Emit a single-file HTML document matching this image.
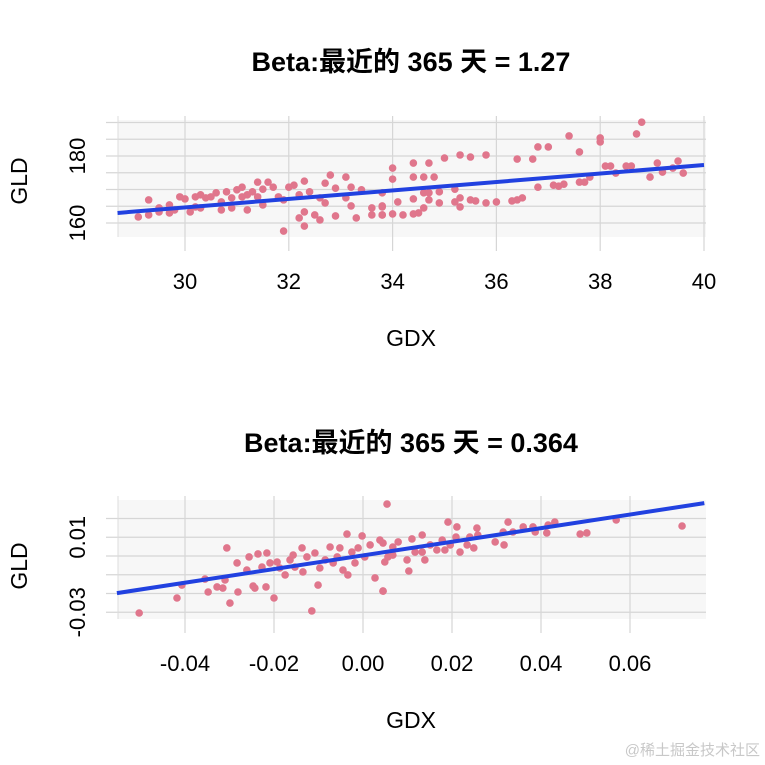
<!DOCTYPE html>
<html><head><meta charset="utf-8">
<style>
html,body{margin:0;padding:0;background:#fff;}
svg{display:block;font-family:"Liberation Sans","Noto Sans CJK SC",sans-serif;}
</style></head>
<body>
<svg id="chart" width="765" height="765" viewBox="0 0 765 765">
  <text x="411" y="71" text-anchor="middle" font-size="27" font-weight="bold" fill="#000">Beta:最近的 365 天 = 1.27</text>
  <g id="top"></g>
  <text x="411" y="346" text-anchor="middle" font-size="23" fill="#000">GDX</text>
  <text transform="translate(27,181) rotate(-90)" text-anchor="middle" font-size="23" fill="#000">GLD</text>

  <text x="411" y="452" text-anchor="middle" font-size="27" font-weight="bold" fill="#000">Beta:最近的 365 天 = 0.364</text>
  <g id="bot"></g>
  <text x="411" y="728" text-anchor="middle" font-size="23" fill="#000">GDX</text>
  <text transform="translate(27,566) rotate(-90)" text-anchor="middle" font-size="23" fill="#000">GLD</text>

  <text x="760" y="755" text-anchor="end" font-size="15" fill="#c8c8c8">@稀土掘金技术社区</text>
</svg>
<script>
// Top panel data
const topX = [34.0,34.0,34.4,34.4,34.7,34.6,34.8,35.0,35.3,35.5,35.8,36.4,36.7,36.8,37.0,37.4,37.6,38.0,38.0,38.7,38.8,38.1,38.2,38.5,38.6,38.3,38.96,39.1,39.2,39.4,39.5,39.6,37.8,37.7,37.6,37.3,37.2,37.1,36.8,36.5,36.4,36.3,36.0,35.8,35.6,35.5,35.3,35.3,35.2,35.2,34.9,34.9,34.7,34.6,34.5,34.4,34.2,34.0,34.1,34.4,34.6,34.7,33.8,33.8,33.8,
29.1,29.3,29.3,29.5,29.5,29.7,29.7,29.8,29.9,30.0,30.1,30.2,30.2,30.3,30.3,30.4,30.5,30.6,30.7,30.7,30.8,30.9,30.9,31.0,31.1,31.1,31.2,31.2,31.3,31.4,31.4,31.5,31.5,31.6,31.7,31.8,31.9,31.9,32.0,32.1,32.2,32.2,32.3,32.3,32.3,32.4,32.5,32.6,32.6,32.7,32.7,32.8,32.9,32.9,33.1,33.1,33.2,33.2,33.3,33.4,33.6,33.6,33.8,33.8];
const topY = [176.4,173.1,173.7,177.9,177.9,173.7,173.7,179.4,180.3,179.7,180.3,179.1,179.1,182.7,182.7,186.0,181.2,185.4,184.2,186.6,190.1,177.0,177.0,177.0,177.0,174.9,173.7,177.9,175.2,176.4,178.5,174.9,173.7,172.2,172.2,171.6,171.0,171.3,170.7,167.5,166.9,166.6,166.3,166.0,166.6,166.9,167.5,164.8,166.3,170.1,169.3,166.0,166.9,164.5,163.0,162.7,162.4,162.7,166.3,167.2,169.0,169.0,165.1,162.4,169.0,
161.8,166.9,162.4,163.3,164.5,165.4,163.0,163.9,167.8,167.2,163.3,164.8,167.8,168.4,164.5,167.5,167.8,169.0,163.9,166.3,169.3,167.5,164.5,169.9,167.8,170.7,163.9,168.4,169.3,172.2,167.8,170.1,165.4,172.2,170.7,167.8,166.9,157.6,170.7,171.3,168.4,161.5,159.1,163.3,172.5,169.3,162.4,167.5,160.9,166.0,171.9,174.3,162.1,170.4,167.5,173.7,170.7,165.1,161.5,169.9,164.5,162.4,162.4,164.8];
const topXTicks = [30,32,34,36,38,40];
const topXTickLabels = ["30","32","34","36","38","40"];
const topYTicks = [160,180];
const topYTickLabels = ["160","180"];
const topYGrid = [160,165,170,175,180,185,190];
const topBeta = 1.27;
const topLineX = [28.7,40.0];
const topLineY = [163.0,177.3];

// Bottom panel data
const botX = [-0.0503,-0.0418,-0.0407,-0.0355,-0.0348,-0.0328,-0.0315,-0.0310,-0.0306,-0.0299,-0.0283,-0.0281,-0.0261,-0.0256,-0.0247,-0.0243,-0.0236,-0.0227,-0.0218,-0.0216,-0.0209,-0.0200,-0.0193,-0.0187,-0.0175,-0.0164,-0.0157,-0.0153,-0.0137,-0.0135,-0.0126,-0.0115,-0.0108,-0.0101,-0.0097,-0.0085,-0.0074,-0.0067,-0.0058,-0.0052,-0.0045,-0.0036,-0.0034,-0.0025,-0.0018,-0.0011,-0.0002,0.0004,0.0016,0.0027,0.0038,0.0045,0.0054,0.0056,0.0067,
0.0045,0.0045,0.0049,0.0067,0.0079,0.0099,0.0103,0.0110,0.0117,0.0133,0.0133,0.0139,0.0151,0.0166,0.0178,0.0184,0.0191,0.0196,0.0209,0.0211,0.0218,0.0234,0.0240,0.0249,0.0256,0.0258,0.0297,0.0315,0.0317,0.0326,0.0337,0.0360,0.0382,0.0387,0.0413,0.0416,0.0431,0.0488,0.0503,0.0569,0.0717];
const botY = [-0.0304,-0.0224,-0.0155,-0.0123,-0.0192,-0.0165,-0.0171,-0.0128,0.0043,-0.0251,-0.0037,-0.0192,-0.0075,-0.0005,-0.0160,-0.0171,0.0011,-0.0059,-0.0165,0.0016,-0.0037,-0.0224,-0.0032,-0.0064,-0.0101,-0.0021,0.0005,-0.0059,0.0043,-0.0085,-0.0005,-0.0293,0.0016,-0.0155,-0.0064,-0.0021,0.0048,-0.0037,-0.0005,0.0043,-0.0075,0.0117,-0.0101,0.0021,-0.0037,0.0043,0.0107,-0.0005,0.0059,-0.0117,0.0085,-0.0187,0.0277,-0.0005,0.0048,
0.0069,-0.0187,-0.0032,0.0005,0.0075,-0.0021,-0.0080,0.0091,0.0021,0.0112,0.0021,-0.0021,0.0059,0.0032,0.0085,0.0032,0.0181,0.0059,0.0101,0.0155,0.0021,0.0059,0.0101,0.0043,0.0149,0.0112,0.0075,0.0128,0.0059,0.0181,0.0128,0.0155,0.0155,0.0128,0.0123,0.0165,0.0181,0.0117,0.0123,0.0192,0.0160];
const botXTicks = [-0.04,-0.02,0.00,0.02,0.04,0.06];
const botXTickLabels = ["-0.04","-0.02","0.00","0.02","0.04","0.06"];
const botYTicks = [-0.03,0.01];
const botYTickLabels = ["-0.03","0.01"];
const botYGrid = [-0.03,-0.02,-0.01,0.00,0.01,0.02];
const botBeta = 0.364;
const botLineX = [-0.0553,0.0767];
const botLineY = [-0.0198,0.0282];

const NS = "http://www.w3.org/2000/svg";
function mk(tag, attrs, parent){
  const e = document.createElementNS(NS, tag);
  for (const k in attrs) e.setAttribute(k, attrs[k]);
  parent.appendChild(e);
  return e;
}

function drawPanel(g, cfg){
  const sx = v => cfg.x0px + (v - cfg.x0) * cfg.xs;
  const sy = v => cfg.y0px - (v - cfg.y0) * cfg.ys;
  const bg = mk('rect', {x:cfg.left, y:cfg.top, width:cfg.right-cfg.left, height:cfg.bottom-cfg.top, fill:'#f7f7f7'}, g);
  
  
  cfg.yGrid.forEach(v => {
    const l = mk('line', {x1:cfg.left-12, x2:cfg.right, y1:sy(v), y2:sy(v), stroke:'#d6d6d6', 'stroke-width':1.2}, g);
    
    
  });
  cfg.xTicks.forEach((v,i) => {
    const l = mk('line', {x1:sx(v), x2:sx(v), y1:cfg.top-4, y2:cfg.bottom+14, stroke:'#d6d6d6', 'stroke-width':1.2}, g);
    
    
    const t = mk('text', {x:sx(v), y:cfg.xLabelY, 'text-anchor':'middle', 'font-size':22, fill:'#000'}, g);
    t.textContent = cfg.xLabels[i];
    
    
  });
  const el = mk('line', {x1:cfg.left, x2:cfg.left, y1:cfg.top-4, y2:cfg.bottom, stroke:'#dcdcdc', 'stroke-width':1}, g);
  
  
  cfg.yTicks.forEach((v,i) => {
    const t = mk('text', {transform:`translate(85,${sy(v)}) rotate(-90)`, 'text-anchor':'middle', 'font-size':22, fill:'#000'}, g);
    t.textContent = cfg.yLabels[i];
    
    
  });
  cfg.px.forEach((v,i) => {
    const c = mk('circle', {cx:sx(v), cy:sy(cfg.py[i]), r:3.8, fill:'#e0768c'}, g);
    
    
  });
  const rl = mk('line', {x1:sx(cfg.lx[0]), y1:sy(cfg.ly[0]), x2:sx(cfg.lx[1]), y2:sy(cfg.ly[1]), stroke:'#2141e0', 'stroke-width':4}, g);
  
  
}

drawPanel(document.getElementById('top'), {
  x0:30, x0px:185, xs:51.9, y0:180, y0px:156, ys:3.35,
  left:118, right:706, top:120, bottom:237, xLabelY:289,
  xTicks:topXTicks, xLabels:topXTickLabels, yTicks:topYTicks, yLabels:topYTickLabels, yGrid:topYGrid,
  px:topX, py:topY, lx:topLineX, ly:topLineY
});
drawPanel(document.getElementById('bot'), {
  x0:0, x0px:363, xs:4450, y0:0, y0px:556, ys:1875,
  left:118, right:706, top:500, bottom:619, xLabelY:671,
  xTicks:botXTicks, xLabels:botXTickLabels, yTicks:botYTicks, yLabels:botYTickLabels, yGrid:botYGrid,
  px:botX, py:botY, lx:botLineX, ly:botLineY
});
</script>
</body></html>
